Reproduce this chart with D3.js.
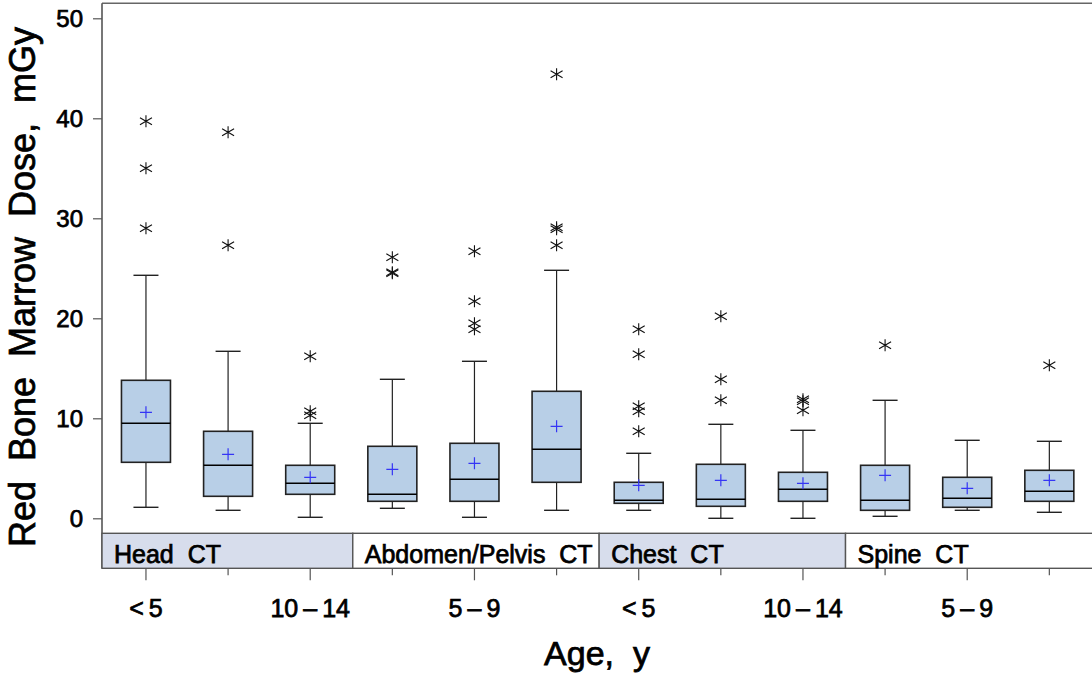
<!DOCTYPE html>
<html>
<head>
<meta charset="utf-8">
<script src="https://cdn.jsdelivr.net/npm/d3@7"></script>
<style>
  body { margin: 0; background: #fff; }
  text { font-family: "Liberation Sans", Arial, Helvetica, sans-serif; fill: #000; white-space: pre; }
  .lbl { stroke: #000; stroke-width: 0.75px; }
</style>
</head>
<body>
<div id="chart"></div>
<script>
// exams (panels) and age groups
var exams = ["Head  CT", "Abdomen/Pelvis  CT", "Chest  CT", "Spine  CT"];
var ages = ["<5", "5-9", "10-14"];

// box statistics, one value per box, ordered exam by exam then age group
var whiskerLow  = [1.1, 0.8, 0.1, 1.0, 0.1, 0.8, 0.8, 0.0, 0.0, 0.2, 0.8, 0.6];
var q1          = [5.6, 2.2, 2.4, 1.7, 1.7, 3.6, 1.5, 1.2, 1.7, 0.8, 1.1, 1.7];
var median      = [9.5, 5.3, 3.5, 2.4, 3.9, 6.9, 1.8, 1.9, 2.9, 1.8, 2.0, 2.7];
var q3          = [13.8, 8.7, 5.3, 7.2, 7.5, 12.7, 3.6, 5.4, 4.6, 5.3, 4.1, 4.8];
var whiskerHigh = [24.3, 16.7, 9.5, 13.9, 15.7, 24.8, 6.5, 9.4, 8.8, 11.8, 7.8, 7.7];
var means       = [10.6, 6.4, 4.1, 4.9, 5.5, 9.2, 3.3, 3.8, 3.5, 4.3, 3.0, 3.8];
var outliers = [
  [39.7, 35.0, 29.0],
  [38.6, 27.3],
  [16.2, 10.7, 10.3],
  [26.1, 24.6, 24.5],
  [26.7, 21.7, 19.5, 18.9],
  [44.4, 29.1, 28.9, 27.3],
  [18.9, 16.4, 11.2, 10.7, 8.7],
  [20.2, 13.9, 11.8],
  [11.9, 11.7, 10.8],
  [17.3],
  [],
  [15.3]
];
var yTicks = [0, 10, 20, 30, 40, 50];

var W = 1092, H = 684;
var axisX = 102, plotTop = 3.3, plotBottom = 533.3, stripH = 35;

var boxes = [];
exams.forEach(function(e, i) {
  ages.forEach(function(a, j) {
    var k = i * ages.length + j;
    boxes.push({ exam: e, age: a, idx: k,
      lo: whiskerLow[k], q1: q1[k], med: median[k], q3: q3[k], hi: whiskerHigh[k],
      mean: means[k], out: outliers[k] });
  });
});

var svg = d3.select("#chart").append("svg")
    .attr("width", W)
    .attr("height", H);

// scales
var y = d3.scaleLinear().domain([-1.5, 51.5]).range([plotBottom, plotTop]);
var x = d3.scaleBand().domain(d3.range(boxes.length)).range([104.9, 1090.4]);
var cx = function(i) { return x(i) + x.bandwidth() / 2; };
var boxW = 49, capW = 25;

// frame: top line and left axis
svg.append("line")
    .attr("x1", axisX).attr("x2", W)
    .attr("y1", plotTop).attr("y2", plotTop)
    .attr("stroke", "#666").attr("stroke-width", 1.6);

var yAxis = d3.axisLeft(y).tickValues(yTicks).tickSize(9).tickPadding(10);
var gy = svg.append("g")
    .attr("transform", "translate(" + axisX + ",0)")
    .call(yAxis);
gy.select(".domain").remove();
gy.selectAll(".tick line").attr("stroke", "#555").attr("stroke-width", 1.2);
gy.selectAll(".tick text")
    .attr("class", "lbl")
    .attr("font-size", 24)
    .attr("dy", "0.36em");
svg.append("line")
    .attr("x1", axisX).attr("x2", axisX)
    .attr("y1", plotTop).attr("y2", plotBottom + stripH)
    .attr("stroke", "#555").attr("stroke-width", 1.6);

// y title
svg.append("text")
    .attr("class", "lbl")
    .attr("transform", "translate(35," + 287 + ") rotate(-90)")
    .attr("text-anchor", "middle")
    .attr("font-size", 36)
    .text("Red  Bone  Marrow  Dose,  mGy");

// boxes
var g = svg.append("g").selectAll("g")
    .data(boxes)
    .join("g")
    .attr("transform", function(d) { return "translate(" + cx(d.idx) + ",0)"; });

// whiskers
g.append("line")
    .attr("x1", 0).attr("x2", 0)
    .attr("y1", function(d) { return y(d.hi); })
    .attr("y2", function(d) { return y(d.q3); })
    .attr("stroke", "#222").attr("stroke-width", 1.2);
g.append("line")
    .attr("x1", 0).attr("x2", 0)
    .attr("y1", function(d) { return y(d.q1); })
    .attr("y2", function(d) { return y(d.lo); })
    .attr("stroke", "#222").attr("stroke-width", 1.2);
g.append("line")
    .attr("x1", -capW / 2).attr("x2", capW / 2)
    .attr("y1", function(d) { return y(d.hi); })
    .attr("y2", function(d) { return y(d.hi); })
    .attr("stroke", "#222").attr("stroke-width", 1.4);
g.append("line")
    .attr("x1", -capW / 2).attr("x2", capW / 2)
    .attr("y1", function(d) { return y(d.lo); })
    .attr("y2", function(d) { return y(d.lo); })
    .attr("stroke", "#222").attr("stroke-width", 1.4);

g.append("rect")
    .attr("x", -boxW / 2)
    .attr("width", boxW)
    .attr("y", function(d) { return y(d.q3); })
    .attr("height", function(d) { return y(d.q1) - y(d.q3); })
    .attr("fill", "#b8cfe7")
    .attr("stroke", "#222").attr("stroke-width", 1.6);

g.append("line")
    .attr("x1", -boxW / 2).attr("x2", boxW / 2)
    .attr("y1", function(d) { return y(d.med); })
    .attr("y2", function(d) { return y(d.med); })
    .attr("stroke", "#000").attr("stroke-width", 1.4);

// mean marker
g.append("path")
    .attr("d", function(d) {
      var m = y(d.mean);
      return "M-6," + m + "H6M0," + (m - 6) + "V" + (m + 6);
    })
    .attr("stroke", "#3535f5").attr("stroke-width", 1.2).attr("fill", "none");

// outliers as asterisks
g.selectAll(".out")
    .data(function(d) { return d.out; })
    .join("path")
    .attr("class", "out")
    .attr("transform", function(v) { return "translate(0," + y(v) + ")"; })
    .attr("d", "M0,-6V6M-6,-3.5L6,3.5M-6,3.5L6,-3.5")
    .attr("stroke", "#111").attr("stroke-width", 1.1).attr("fill", "none");

// exam strip
var strip = svg.append("g").selectAll("g")
    .data(exams)
    .join("g");
strip.append("rect")
    .attr("x", function(d, i) { return i === 0 ? axisX : x(i * 3) + 1.5; })
    .attr("y", plotBottom)
    .attr("width", function(d, i) {
      var left = i === 0 ? axisX : x(i * 3) + 1.5;
      var right = i === exams.length - 1 ? W + 2 : x(i * 3 + 3) + 1.5;
      return right - left;
    })
    .attr("height", stripH)
    .attr("fill", function(d, i) { return i % 2 === 0 ? "#d7ddec" : "#fff"; })
    .attr("stroke", "#555").attr("stroke-width", 1.4);
strip.append("text")
    .attr("class", "lbl")
    .attr("x", function(d, i) { return (i === 0 ? axisX : x(i * 3) + 1.5) + 12; })
    .attr("y", plotBottom + stripH - 5.5)
    .attr("font-size", 25)
    .text(function(d) { return d; });

// x ticks and labels
var xb = plotBottom + stripH;
svg.append("g").selectAll("line")
    .data(boxes)
    .join("line")
    .attr("x1", function(d) { return cx(d.idx); })
    .attr("x2", function(d) { return cx(d.idx); })
    .attr("y1", xb)
    .attr("y2", function(d) { return d.idx % 2 === 0 ? xb + 12 : xb + 7; })
    .attr("stroke", "#555").attr("stroke-width", 1.2);

var fmtAge = function(a) {
  return a.replace("<", "<\u2009").replace("-", "\u2009\u2013\u2009");
};
svg.append("g").selectAll("text")
    .data(boxes.filter(function(d) { return d.idx % 2 === 0; }))
    .join("text")
    .attr("class", "lbl")
    .attr("x", function(d) { return cx(d.idx); })
    .attr("y", 617)
    .attr("text-anchor", "middle")
    .attr("font-size", 25)
    .text(function(d) { return fmtAge(d.age); });

// x title
svg.append("text")
    .attr("class", "lbl")
    .attr("x", 597)
    .attr("y", 665)
    .attr("text-anchor", "middle")
    .attr("font-size", 34)
    .text("Age,  y");
</script>
</body>
</html>
